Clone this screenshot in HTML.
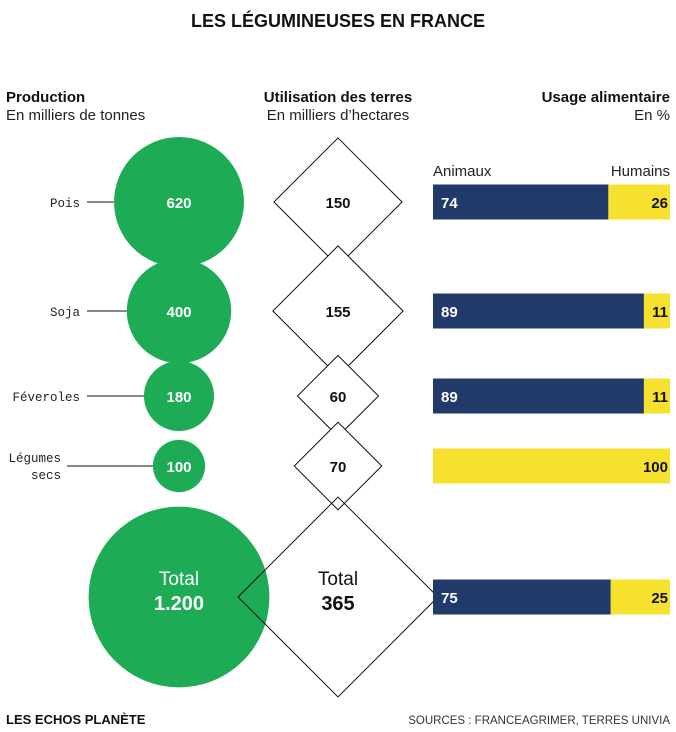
<!DOCTYPE html>
<html><head><meta charset="utf-8"><style>
body{margin:0;background:#fff;font-family:"Liberation Sans",sans-serif;}
#wrap{position:relative;width:676px;height:732px;overflow:hidden;}
svg text{font-family:"Liberation Sans",sans-serif;}
svg text.mono{font-family:"Liberation Mono",monospace;}
</style></head><body>
<div id="wrap">
<svg id="chart" width="676" height="732">
<text x="338" y="27" text-anchor="middle" font-size="18" font-weight="bold" fill="#111">LES LÉGUMINEUSES EN FRANCE</text>
<text x="6" y="102" font-size="15" font-weight="bold" fill="#111">Production</text>
<text x="6" y="120" font-size="15" fill="#222">En milliers de tonnes</text>
<text x="338" y="102" text-anchor="middle" font-size="15" font-weight="bold" fill="#111">Utilisation des terres</text>
<text x="338" y="120" text-anchor="middle" font-size="15" fill="#222">En milliers d’hectares</text>
<text x="670" y="102" text-anchor="end" font-size="15" font-weight="bold" fill="#111">Usage alimentaire</text>
<text x="670" y="120" text-anchor="end" font-size="15" fill="#222">En %</text>
<text x="433" y="176" font-size="15" fill="#222">Animaux</text>
<text x="670" y="176" text-anchor="end" font-size="15" fill="#222">Humains</text>
<g id="marks"></g>
<text x="6" y="724" font-size="13" font-weight="bold" fill="#111">LES ECHOS PLANÈTE</text>
<text x="670" y="724" text-anchor="end" font-size="11.5" fill="#333">SOURCES : FRANCEAGRIMER, TERRES UNIVIA</text>
</svg>
</div>
<script>
const categories = ["Pois","Soja","Féveroles","Légumes secs","Total"];
const production = [620,400,180,100,1200];
const landUse = [150,155,60,70,365];
const animalShare = [74,89,89,0,75];
const humanShare = [26,11,11,100,25];
const rowY = [202,311,396,466,597];

const NS="http://www.w3.org/2000/svg";
const g=document.getElementById('marks');
function mk(tag,attrs){const e=document.createElementNS(NS,tag);for(const k in attrs)e.setAttribute(k,attrs[k]);g.appendChild(e);return e;}
const rScale=v=>2.61*Math.sqrt(v);
const dScale=v=>5.23*Math.sqrt(v);
const barX=433, barW=237, barH=35;
const xPct=p=>barX+barW*p/100;
const fmt=v=>v>=1000?String(v).replace(/(\d)(\d{3})$/,'$1.$2'):String(v);

categories.forEach((c,i)=>{
  const y=rowY[i], total=c==="Total";
  const r=rScale(production[i]);
  const circ=mk('circle',{cx:179,cy:y,r:r,fill:'#1eab55'});
  
  
  const d=dScale(landUse[i]);
  const dm=mk('polygon',{points:`338,${y-d} ${338+d},${y} 338,${y+d} ${338-d},${y}`,fill:total?'none':'#fff',stroke:'#111','stroke-width':1});
  
  
  const by=y-barH/2;
  if(animalShare[i]>0){
    const a=mk('rect',{x:barX,y:by,width:xPct(animalShare[i])-barX,height:barH,fill:'#213a6a'});
    
    
    const at=mk('text',{x:barX+8,y:y+6,'font-size':15,'font-weight':'bold',fill:'#fff'});at.textContent=animalShare[i];
    
    
  }
  const h=mk('rect',{x:xPct(animalShare[i]),y:by,width:barW*humanShare[i]/100,height:barH,fill:'#f6e22e'});
  
  
  const ht=mk('text',{x:668,y:y+6,'text-anchor':'end','font-size':15,'font-weight':'bold',fill:'#111'});ht.textContent=humanShare[i];
  
  
  if(total){
    const t1=mk('text',{x:179,y:y-12,'text-anchor':'middle','font-size':19,fill:'#fff'});t1.textContent='Total';
    
    
    const t2=mk('text',{x:179,y:y+13,'text-anchor':'middle','font-size':20,'font-weight':'bold',fill:'#fff'});t2.textContent=fmt(production[i]);
    
    
    const t3=mk('text',{x:338,y:y-12,'text-anchor':'middle','font-size':19,fill:'#111'});t3.textContent='Total';
    
    
    const t4=mk('text',{x:338,y:y+13,'text-anchor':'middle','font-size':20,'font-weight':'bold',fill:'#111'});t4.textContent=landUse[i];
    
    
  } else {
    const pt=mk('text',{x:179,y:y+6,'text-anchor':'middle','font-size':15,'font-weight':'bold',fill:'#fff'});pt.textContent=production[i];
    
    
    const lt=mk('text',{x:338,y:y+6,'text-anchor':'middle','font-size':15,'font-weight':'bold',fill:'#111'});lt.textContent=landUse[i];
    
    
    const words=c.split(' ');
    const multi=words.length>1;
    const ln=mk('line',{x1:multi?67:87,y1:y,x2:179-r,y2:y,stroke:'#111','stroke-width':1});
    
    
    if(multi){
      words.forEach((w,k)=>{const t=mk('text',{x:61,y:y-4+k*17,'text-anchor':'end','font-size':12.5,fill:'#222','class':'mono'});t.textContent=w;
        
        });
    } else {
      const t=mk('text',{x:80,y:y+5,'text-anchor':'end','font-size':12.5,fill:'#222','class':'mono'});t.textContent=c;
      
      
    }
  }
});
</script>
</body></html>
